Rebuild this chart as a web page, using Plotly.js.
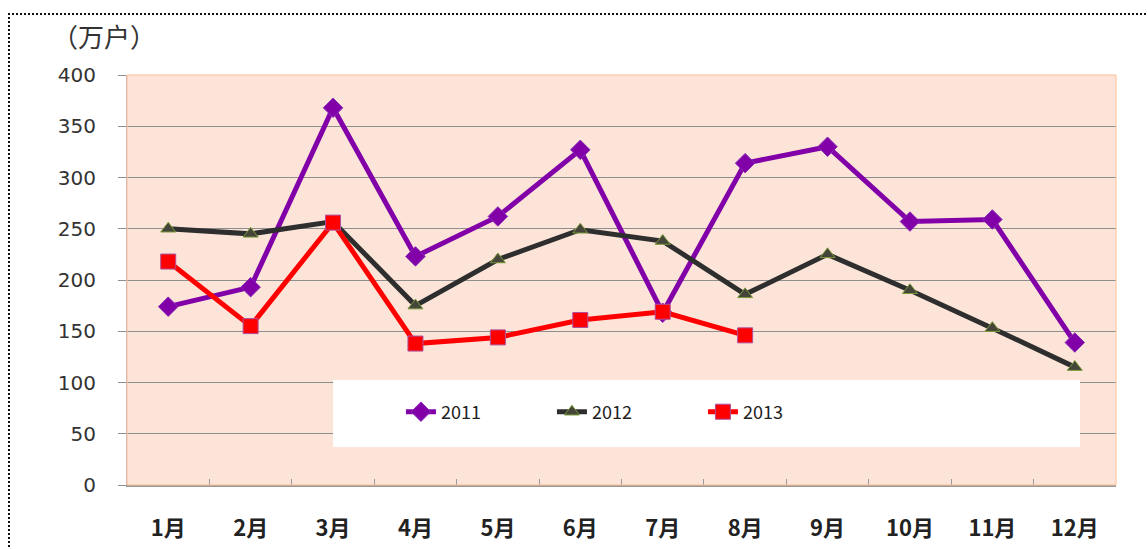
<!DOCTYPE html>
<html>
<head>
<meta charset="utf-8">
<script src="https://cdn.plot.ly/plotly-3.0.1.min.js"></script>
<style>
  html, body { margin: 0; padding: 0; background: #fff; }
  #wrap { position: relative; width: 1147px; height: 549px; overflow: hidden; }
  #frame { position: absolute; left: 8px; top: 13px; width: 1160px; height: 560px;
           border-left: 2px dotted #111; border-top: 2px dotted #111; pointer-events: none; }
  #chart { position: absolute; left: 0; top: 0; width: 1147px; height: 549px; }
</style>
</head>
<body>
<div id="wrap">
  <div id="chart"></div>
  <div id="frame"></div>
</div>
<script>
const months = ['1月','2月','3月','4月','5月','6月','7月','8月','9月','10月','11月','12月'];
const seriesNames = ['2011','2012','2013'];
const v2011 = [174, 193, 368, 223, 262, 327, 168, 314, 330, 257, 259, 139];
const v2012 = [250, 245, 257, 175, 220, 249, 238, 186, 225, 190, 153, 115];
const v2013 = [218, 155, 256, 138, 144, 161, 169, 146];
const yTicks = [0, 50, 100, 150, 200, 250, 300, 350, 400];
const unitLabel = '（万户）';

const CJK = '"Noto Sans CJK SC", "Noto Sans", sans-serif';
const NUM = '"DejaVu Sans", "Noto Sans", sans-serif';

const traces = [
  {
    x: months, y: v2011, name: seriesNames[0], type: 'scatter', mode: 'lines+markers',
    line: {color: '#8200a8', width: 5},
    marker: {symbol: 'diamond', size: 15, color: '#8200a8', line: {color: '#8a2ab8', width: 1}}
  },
  {
    x: months, y: v2012, name: seriesNames[1], type: 'scatter', mode: 'lines+markers',
    line: {color: '#2e2e2e', width: 5},
    marker: {symbol: 'triangle-up', size: 13, color: '#45453a', line: {color: '#7a9a3a', width: 1}}
  },
  {
    x: months.slice(0, v2013.length), y: v2013, name: seriesNames[2], type: 'scatter', mode: 'lines+markers',
    line: {color: '#ff0000', width: 5},
    marker: {symbol: 'square', size: 15, color: '#ff0000', line: {color: '#b0509a', width: 1}}
  }
];

const layout = {
  width: 1147, height: 549,
  margin: {l: 127, r: 31, t: 75, b: 64, pad: 0},
  paper_bgcolor: 'rgba(0,0,0,0)',
  plot_bgcolor: '#fce5d8',
  showlegend: true,
  legend: {
    orientation: 'h', x: 0.277, y: 0.178, xanchor: 'left', yanchor: 'middle',
    bgcolor: 'rgba(0,0,0,0)', borderwidth: 0,
    entrywidth: 106, entrywidthmode: 'pixels',
    font: {family: CJK, size: 18, color: '#222'},
    traceorder: 'normal'
  },
  xaxis: {
    type: 'category', categoryorder: 'array', categoryarray: months,
    range: [-0.5, 11.5], fixedrange: true,
    showgrid: false, zeroline: false,
    showline: true, linecolor: '#9a9a9a', linewidth: 2,
    ticks: 'inside', ticklen: 6, tickcolor: '#9a9a9a', tickson: 'boundaries',
    tickfont: {family: CJK, size: 22, color: '#222', weight: 'bold'},
    ticklabelstandoff: 23
  },
  yaxis: {
    range: [0, 400], tickvals: yTicks, ticktext: yTicks.map(String), fixedrange: true,
    showgrid: true, gridcolor: '#8e8e8e', gridwidth: 1,
    zeroline: false,
    showline: true, linecolor: '#b0b4cc', linewidth: 1,
    ticks: 'outside', ticklen: 8, tickcolor: '#8e8e8e',
    tickfont: {family: NUM, size: 20, color: '#333'},
    ticklabelstandoff: 18
  },
  shapes: [
    {type: 'rect', xref: 'paper', yref: 'paper', x0: 0, x1: 1, y0: 0, y1: 1,
     line: {color: '#ffbe96', width: 1}, fillcolor: 'rgba(0,0,0,0)', layer: 'above'},
    {type: 'rect', xref: 'paper', yref: 'paper', x0: 0.2083, x1: 0.9636, y0: 0.0927, y1: 0.256,
     line: {width: 0}, fillcolor: '#ffffff', layer: 'above'}
  ],
  annotations: [
    {text: unitLabel, xref: 'paper', yref: 'paper', x: -0.078, y: 1.097,
     xanchor: 'left', yanchor: 'middle', showarrow: false,
     font: {family: CJK, size: 26, color: '#333'}}
  ]
};

Plotly.newPlot('chart', traces, layout, {displayModeBar: false, staticPlot: true});
</script>
</body>
</html>
